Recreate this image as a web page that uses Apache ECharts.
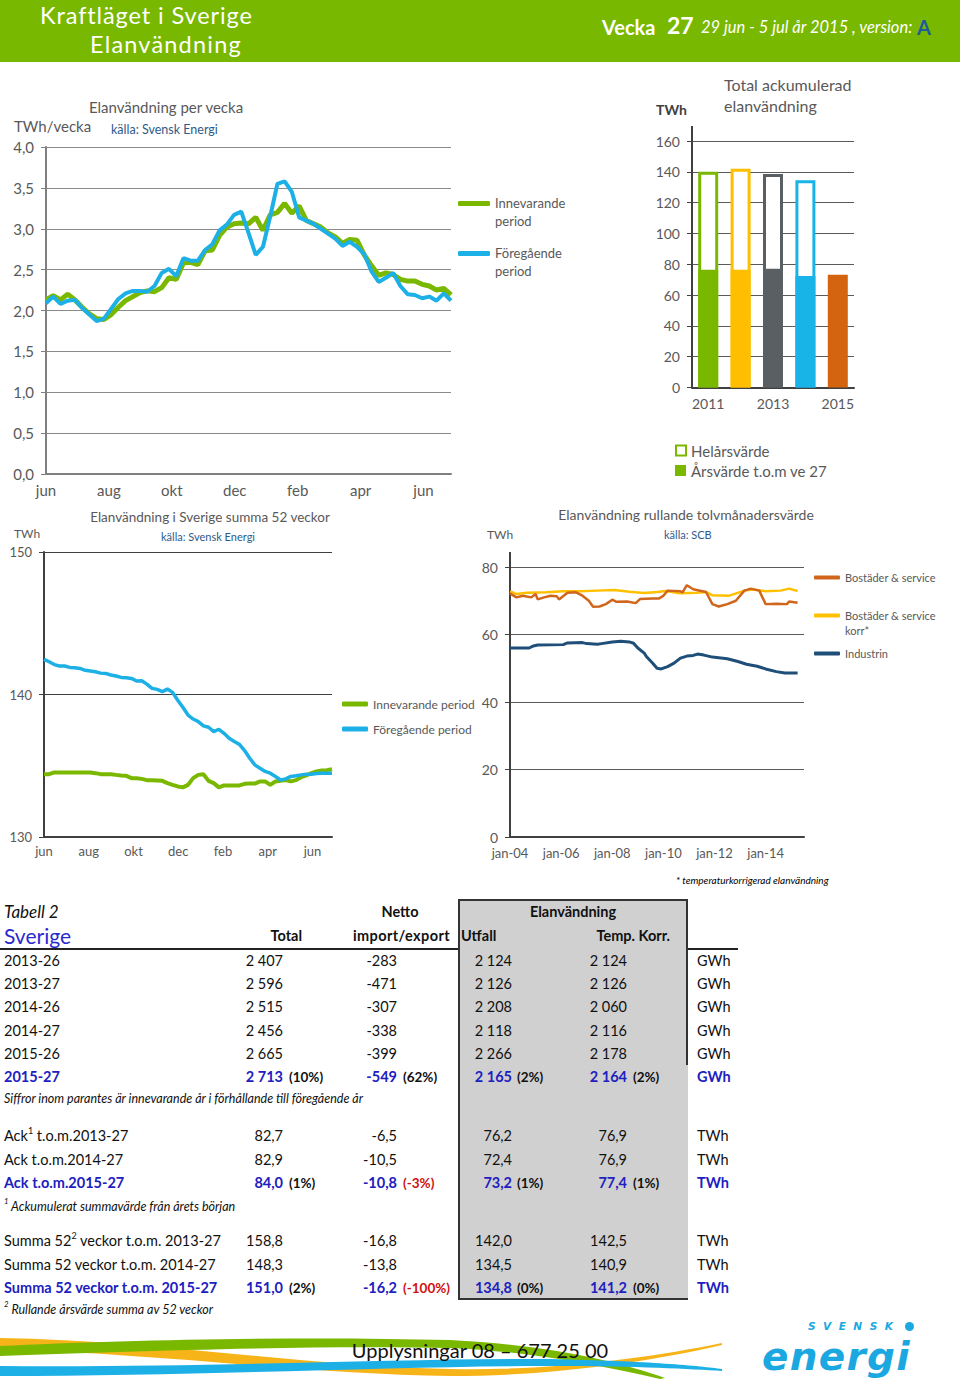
<!DOCTYPE html>
<html><head><meta charset="utf-8">
<script src="https://cdn.jsdelivr.net/npm/echarts@6/dist/echarts.min.js"></script>
<style>
html,body{margin:0;padding:0;background:#fff;}
#page{position:relative;width:960px;height:1380px;overflow:hidden;font-family:Lato,'Noto Sans',sans-serif;}
#header{position:absolute;left:0;top:0;width:960px;height:62px;background:#79b800;}
#chart{position:absolute;left:0;top:0;width:960px;height:1380px;z-index:1;}
.t{position:absolute;white-space:nowrap;z-index:3;}
.blk{position:absolute;z-index:0;}
sup{font-size:62%;position:relative;top:-0.15em;line-height:0;}
#swoosh{position:absolute;left:0;top:1320px;z-index:2;}
</style></head>
<body><div id="page">
<div id="header"></div>
<div class="blk" style="left:458px;top:899px;width:230px;height:401px;background:#d0d0d0;border-left:2px solid #333;border-top:2px solid #333;border-bottom:2px solid #333;box-sizing:border-box;"></div>
<div class="blk" style="left:686px;top:899px;width:2px;height:166px;background:#333;"></div>
<div class="blk" style="left:0;top:948px;width:458px;height:2px;background:#222;"></div>
<div class="blk" style="left:688px;top:948px;width:50px;height:2px;background:#222;"></div>
<svg id="swoosh" width="760" height="60" viewBox="0 0 760 60">
  <path d="M0,18 C150,20 300,46 450,49 C550,51 650,38 722,23 L722,25 C650,42 550,56 450,56 C300,54 150,32 0,30 Z" fill="#f6b418"/>
  <path d="M0,26 C120,20 300,16 450,20 C550,25 620,42 665,58 L660,59 C610,48 540,32 450,28 C300,25 120,32 0,36 Z" fill="#7ab800"/>
  <path d="M0,46 C200,48 400,38 550,39 C650,41 700,46 722,49 L722,51 C690,49 640,46 550,46 C400,46 200,56 0,56 Z" fill="#1cb0e6"/>
</svg>
<div id="chart"></div>
</div>
<script>
// ---------- data ----------
const monthTicks = ['jun','aug','okt','dec','feb','apr','jun'];
const weeklyCurrent = [2.13,2.18,2.13,2.20,2.13,2.04,1.96,1.90,1.89,1.95,
  2.04,2.12,2.17,2.22,2.24,2.23,2.28,2.40,2.38,2.58,
  2.59,2.56,2.73,2.74,2.92,3.02,3.06,3.07,3.06,3.14,
  2.98,3.17,3.20,3.31,3.19,3.28,3.10,3.06,3.02,2.95,
  2.90,2.82,2.87,2.86,2.68,2.55,2.43,2.46,2.44,2.38,
  2.36,2.36,2.32,2.30,2.25,2.27,2.19];
const weeklyPrevious = [2.09,2.17,2.08,2.12,2.13,2.03,1.95,1.87,1.90,2.02,
  2.14,2.21,2.24,2.24,2.23,2.30,2.46,2.51,2.42,2.64,
  2.61,2.61,2.74,2.81,2.98,3.05,3.17,3.21,2.95,2.68,
  2.78,3.15,3.55,3.58,3.45,3.14,3.10,3.06,3.00,2.94,
  2.88,2.79,2.84,2.78,2.69,2.48,2.35,2.40,2.46,2.30,
  2.20,2.19,2.15,2.17,2.12,2.21,2.12];
const yearCategories = ['2011','2012','2013','2014','2015'];
const fullYearValues = [140.0,142.0,138.5,134.5,null];
const ytdWeek27Values = [76.5,76.4,77.0,72.4,73.2];
const sum52Current = [134.41,134.41,134.53,134.53,134.53,134.53,134.53,134.53,134.53,134.53,
  134.48,134.41,134.41,134.41,134.36,134.32,134.29,134.13,134.13,134.08,
  133.99,133.99,133.97,133.94,133.78,133.66,133.55,133.48,133.66,134.13,
  134.36,134.41,133.94,133.78,133.48,133.62,133.62,133.62,133.62,133.73,
  133.75,133.75,133.90,133.90,133.66,133.90,133.94,133.99,133.90,133.99,
  134.20,134.32,134.48,134.60,134.67,134.69,134.76];
const sum52Previous = [142.46,142.30,142.10,142.00,142.00,141.90,141.88,141.83,141.70,141.65,
  141.60,141.50,141.48,141.37,141.30,141.20,141.18,141.13,140.95,140.97,
  140.73,140.43,140.36,140.20,140.38,140.15,139.60,139.10,138.56,138.28,
  138.10,137.80,137.70,137.40,137.56,137.28,136.93,136.70,136.50,136.07,
  135.53,135.06,134.83,134.60,134.48,134.25,134.00,134.08,134.25,134.30,
  134.36,134.40,134.40,134.46,134.48,134.48,134.48];
const rollingTicks = ['jan-04','jan-06','jan-08','jan-10','jan-12','jan-14'];
const bostaderMonths = [0,3,6,10,12,13,16,19,22,23,27,31,34,37,39,42,45,48,50,55,59,61,67,70,72,74,80,81,83,86,92,95,98,102,106,110,113,117,120,125,130,131,135];
const bostaderValues = [72.2,71.0,71.5,71.0,72.0,70.4,71.0,71.5,71.3,70.4,72.4,72.5,71.5,70.0,68.2,68.3,69.0,70.3,69.7,69.8,69.3,70.5,70.7,70.7,71.5,73.0,72.8,72.5,74.6,73.4,72.6,69.0,68.3,69.0,70.0,73.0,73.6,73.0,69.0,69.1,69.0,69.8,69.4];
const korrMonths = [0,3,8,17,25,33,41,49,56,63,69,73,80,88,92,95,103,110,114,120,127,131,135];
const korrValues = [72.8,72.0,72.4,72.5,72.8,72.8,73.0,73.2,72.7,72.3,72.6,72.9,72.2,72.4,72.6,71.6,71.5,73.0,73.3,72.8,73.0,73.6,72.9];
const industriMonths = [0,9,11,13,25,27,34,36,41,43,48,52,56,58,60,63,64,67,69,71,74,77,80,83,86,88,91,95,102,107,111,116,120,125,129,135];
const industriValues = [56.0,56.0,56.6,56.9,57.0,57.5,57.6,57.3,57.1,57.3,57.8,58.0,57.8,57.4,56.0,54.5,53.5,51.5,50.0,49.8,50.5,51.5,53.0,53.6,53.8,54.2,53.9,53.3,52.8,52.0,51.2,50.6,49.8,49.0,48.6,48.6];

// table
const weekLabels = ['2013-26','2013-27','2014-26','2014-27','2015-26','2015-27'];
const weekTotal = ['2 407','2 596','2 515','2 456','2 665','2 713'];
const weekNet = ['-283','-471','-307','-338','-399','-549'];
const weekUtfall = ['2 124','2 126','2 208','2 118','2 266','2 165'];
const weekTempKorr = ['2 124','2 126','2 060','2 116','2 178','2 164'];
const weekPct = ['(10%)','(62%)','(2%)','(2%)'];
const ackLabels = ['Ack<sup>1</sup> t.o.m.2013-27','Ack t.o.m.2014-27','Ack t.o.m.2015-27'];
const ackTotal = ['82,7','82,9','84,0'];
const ackNet = ['-6,5','-10,5','-10,8'];
const ackUtfall = ['76,2','72,4','73,2'];
const ackTempKorr = ['76,9','76,9','77,4'];
const ackPct = ['(1%)','(-3%)','(1%)','(1%)'];
const sumLabels = ['Summa 52<sup>2</sup> veckor t.o.m. 2013-27','Summa 52 veckor t.o.m. 2014-27','Summa 52 veckor t.o.m. 2015-27'];
const sumTotal = ['158,8','148,3','151,0'];
const sumNet = ['-16,8','-13,8','-16,2'];
const sumUtfall = ['142,0','134,5','134,8'];
const sumTempKorr = ['142,5','140,9','141,2'];
const sumPct = ['(2%)','(-100%)','(0%)','(0%)'];

// ---------- styles ----------
const GREEN='#7ab800', BLUE='#1cb0e6', GRAYTXT='#595959', FONT='Lato';
const barColors = ['#7ab800','#ffbf00','#5a5f63','#18b4e8','#d4640f'];
const WEEKS_2M = 8.7;

// ---------- text helper ----------
const page = document.getElementById('page');
function T(txt,x,y,o){o=o||{};const d=document.createElement('div');d.className='t';d.innerHTML=txt;
  const s=o.size||14, lh=o.lh||1.2;d.style.fontSize=s+'px';d.style.lineHeight=(s*lh)+'px';d.style.top=(y-s*(lh/2+0.057))+'px';
  d.style.color=o.color||GRAYTXT; if(o.bold)d.style.fontWeight=o.bold===true?'bold':o.bold; if(o.italic)d.style.fontStyle='italic';
  if(o.ls)d.style.letterSpacing=o.ls+'px'; if(o.font)d.style.fontFamily=o.font;
  if(o.align==='center'){d.style.left=x+'px';d.style.transform='translateX(-50%)';}
  else if(o.align==='right'){d.style.right=(960-x)+'px';} else d.style.left=x+'px';
  page.appendChild(d);return d;}

// header
T('Kraftläget i Sverige',40,16.5,{size:23.5,color:'#fff',ls:0.9});
T('Elanvändning',90,45,{size:23.5,color:'#fff',ls:1.2});
T('Vecka',602,28,{size:20,color:'#fff',bold:true});
T('27',667,27,{size:23,color:'#fff',bold:true});
T('29 jun - 5 jul år 2015 , version:',701,29,{size:16.5,color:'#fff',italic:true});
T('A',917,28,{size:20,color:'#1f5a9e',bold:true});

// chart titles
T('Elanvändning per vecka',166,108,{size:15,align:'center'});
T('TWh/vecka',14,127,{size:15});
T('källa: Svensk Energi',111,130,{size:12.5,color:'#2f5b8a'});
T('TWh',656,111,{size:14,bold:true,color:'#404040'});
T('Total ackumulerad',724,86,{size:16});
T('elanvändning',724,107,{size:16});
T('Elanvändning i Sverige summa 52 veckor',210,518,{size:13.5,align:'center'});
T('TWh',14,535,{size:12});
T('källa: Svensk Energi',161,537,{size:11,color:'#2f5b8a'});
T('Elanvändning rullande tolvmånadersvärde',686,516,{size:14,align:'center'});
T('TWh',487,536,{size:12});
T('källa: SCB',664,535,{size:11,color:'#2f5b8a'});
T('* temperaturkorrigerad elanvändning',676,881,{size:10,italic:true,color:'#000'});

// table
const BLK='#111', BL='#2020c0', RED='#d01010', TS=14.5;
T('Tabell 2',4,913,{size:17,italic:true,color:BLK});
T('Sverige',4,937,{size:21,color:'#2a2ad0'});
T('Netto',400,913,{size:TS,bold:true,color:BLK,align:'center'});
T('Elanvändning',573,913,{size:TS,bold:true,color:BLK,align:'center'});
T('Total',302,937,{size:TS,bold:true,color:BLK,align:'right'});
T('import/export',450,937,{size:TS,bold:true,color:BLK,align:'right',ls:0.4});
T('Utfall',461,937,{size:TS,bold:true,color:BLK});
T('Temp. Korr.',670,937,{size:TS,bold:true,color:BLK,align:'right'});
function row(y,label,tot,net,utf,tk,unit,hl,pct){
  const c=hl?BL:BLK, b=hl;
  T(label,4,y,{size:TS,color:c,bold:b});
  T(tot,283,y,{size:TS,color:c,bold:b,align:'right'});
  T(net,397,y,{size:TS,color:c,bold:b,align:'right'});
  T(utf,512,y,{size:TS,color:c,bold:b,align:'right'});
  T(tk,627,y,{size:TS,color:c,bold:b,align:'right'});
  T(unit,697,y,{size:TS,color:c,bold:b});
  if(pct){const xs=[289,403,517,633];pct.forEach((p,i)=>{T(p,xs[i],y,{size:13.5,bold:true,color:p.indexOf('-')>=0?RED:BLK});});}
}
const wy=[962,985,1008,1032,1055,1078];
weekLabels.forEach((l,i)=>row(wy[i],l,weekTotal[i],weekNet[i],weekUtfall[i],weekTempKorr[i],'GWh',i===5,i===5?weekPct:null));
T('Siffror inom parantes är innevarande år i förhållande till föregående år',4,1099,{size:12.5,italic:true,color:BLK});
const ay=[1137,1161,1184];
ackLabels.forEach((l,i)=>row(ay[i],l,ackTotal[i],ackNet[i],ackUtfall[i],ackTempKorr[i],'TWh',i===2,i===2?ackPct:null));
T('<sup>1</sup> Ackumulerat summavärde från årets början',4,1207,{size:12.5,italic:true,color:BLK});
const sy=[1242,1266,1289];
sumLabels.forEach((l,i)=>row(sy[i],l,sumTotal[i],sumNet[i],sumUtfall[i],sumTempKorr[i],'TWh',i===2,i===2?sumPct:null));
T('<sup>2</sup> Rullande årsvärde summa av 52 veckor',4,1310,{size:12.5,italic:true,color:BLK});

// footer
T('Upplysningar 08 &ndash; 677 25 00',480,1351,{size:20,color:'#111',align:'center'});
T('SVENSK',808,1327,{size:10.5,color:'#1ba8e0',bold:true,italic:true,ls:7.5,font:'DejaVu Sans',lh:1});
T('<span style="display:inline-block;width:9px;height:9px;border-radius:50%;background:#1ba8e0;"></span>',905,1327,{size:9,lh:1});
T('energi',762,1358.5,{size:39,color:'#1ba8e0',bold:true,italic:true,font:'DejaVu Sans',lh:0.9,ls:1.3});

// ---------- chart ----------
const chart = echarts.init(document.getElementById('chart'), null, {renderer:'svg'});
const txt = (s,c)=>({fontFamily:FONT,fontSize:s,color:c||GRAYTXT});
const weekFmt = v=>{const k=v/WEEKS_2M,r=Math.round(k);return Math.abs(k-r)<1e-6?monthTicks[r]:'';};
const pairs = arr=>arr.map((v,i)=>[i,v]);
const zip = (xs,ys)=>xs.map((x,i)=>[x,ys[i]]);
const twoLine = (first,lh1)=>({...txt(first.size),rich:{a:{...txt(first.size),lineHeight:lh1},b:{...txt(first.size),lineHeight:1}}});
const splitFmt = n=>{const p=n.split(' ');return '{a|'+p[0]+'}\n{b|'+p.slice(1).join(' ')+'}';};

const option = {
  animation:false,
  textStyle:{fontFamily:FONT},
  grid:[
    {left:46,top:147,width:405,height:327},
    {left:692,top:141,width:162,height:246.5},
    {left:44,top:552,width:288,height:285},
    {left:510,top:567,width:294,height:270}
  ],
  xAxis:[
    {gridIndex:0,type:'value',min:0,max:56,interval:WEEKS_2M,
     axisLine:{lineStyle:{color:'#7f7f7f',width:2}},axisTick:{show:false},splitLine:{show:false},
     axisLabel:{...txt(15),margin:8,formatter:weekFmt}},
    {gridIndex:1,type:'category',data:yearCategories,
     axisLine:{lineStyle:{color:'#404040',width:2}},axisTick:{show:false},
     axisLabel:{...txt(14),interval:1,margin:9}},
    {gridIndex:2,type:'value',min:0,max:56,interval:WEEKS_2M,
     axisLine:{lineStyle:{color:'#404040',width:2}},axisTick:{show:false},splitLine:{show:false},
     axisLabel:{...txt(13),margin:7,formatter:weekFmt}},
    {gridIndex:3,type:'value',min:0,max:138,interval:24,
     axisLine:{lineStyle:{color:'#404040',width:2}},axisTick:{show:false},splitLine:{show:false},
     axisLabel:{...txt(13),margin:9,formatter:v=>v%24===0?rollingTicks[v/24]:''}}
  ],
  yAxis:[
    {gridIndex:0,type:'value',min:0,max:4,interval:0.5,
     axisLine:{show:true,lineStyle:{color:'#7f7f7f',width:2}},axisTick:{show:true,length:5,lineStyle:{color:'#7f7f7f'}},
     splitLine:{lineStyle:{color:'#8a8a8a',width:1}},
     axisLabel:{...txt(15),margin:12,formatter:v=>v.toFixed(1).replace('.',',')}},
    {gridIndex:1,type:'value',min:0,max:160,interval:20,
     axisLine:{show:true,lineStyle:{color:'#404040',width:2}},axisTick:{show:true,length:5,lineStyle:{color:'#404040'}},
     splitLine:{lineStyle:{color:'#5a5a5a',width:1}},
     axisLabel:{...txt(14),margin:12}},
    {gridIndex:2,type:'value',min:130,max:150,interval:10,
     axisLine:{show:true,lineStyle:{color:'#404040',width:2}},axisTick:{show:true,length:5,lineStyle:{color:'#404040'}},
     splitLine:{lineStyle:{color:'#404040',width:1}},
     axisLabel:{...txt(13),margin:12}},
    {gridIndex:3,type:'value',min:0,max:80,interval:20,
     axisLine:{show:true,lineStyle:{color:'#404040',width:2}},axisTick:{show:true,length:5,lineStyle:{color:'#404040'}},
     splitLine:{lineStyle:{color:'#5a5a5a',width:1}},
     axisLabel:{...txt(14),margin:12}}
  ],
  legend:[
    {data:['Innevarande period'],left:458,top:196.5,padding:0,icon:'roundRect',itemWidth:32,itemHeight:5,
     formatter:splitFmt,textStyle:twoLine({size:13},34)},
    {data:['Föregående period'],left:458,top:246.5,padding:0,icon:'roundRect',itemWidth:32,itemHeight:5,
     formatter:splitFmt,textStyle:twoLine({size:13},34)},
    {data:['Helårsvärde'],left:675,top:443,padding:0,icon:'rect',itemWidth:10,itemHeight:10,
     itemStyle:{color:'#fff',borderColor:GREEN,borderWidth:2},textStyle:txt(15)},
    {data:['Årsvärde t.o.m ve 27'],left:675,top:463,padding:0,icon:'rect',itemWidth:11,itemHeight:11,
     itemStyle:{color:GREEN,borderWidth:0},textStyle:txt(15)},
    {data:['Innevarande period'],left:342,top:698,padding:0,icon:'roundRect',itemWidth:26,itemHeight:5,textStyle:txt(12)},
    {data:['Föregående period'],left:342,top:723,padding:0,icon:'roundRect',itemWidth:26,itemHeight:5,textStyle:txt(12)},
    {data:['Bostäder & service'],left:814,top:572,padding:0,icon:'roundRect',itemWidth:26,itemHeight:4,textStyle:txt(11)},
    {data:['Bostäder & service korr*'],left:814,top:609.5,padding:0,icon:'roundRect',itemWidth:26,itemHeight:4,
     formatter:()=>'{a|Bostäder & service}\n{b|korr*}',textStyle:twoLine({size:11},30)},
    {data:['Industrin'],left:814,top:648,padding:0,icon:'roundRect',itemWidth:26,itemHeight:4,textStyle:txt(11)}
  ],
  graphic:[
    {type:'line',shape:{x1:692,y1:126,x2:692,y2:141},style:{stroke:'#404040',lineWidth:2},z:10},
    {type:'line',shape:{x1:510,y1:552,x2:510,y2:567},style:{stroke:'#404040',lineWidth:2},z:10}
  ],
  series:[
    {name:'Innevarande period',type:'line',xAxisIndex:0,yAxisIndex:0,data:pairs(weeklyCurrent),showSymbol:false,
     lineStyle:{color:GREEN,width:5},itemStyle:{color:GREEN},z:2},
    {name:'Föregående period',type:'line',xAxisIndex:0,yAxisIndex:0,data:pairs(weeklyPrevious),showSymbol:false,
     lineStyle:{color:BLUE,width:4},itemStyle:{color:BLUE},z:3},
    {name:'Helårsvärde',type:'bar',xAxisIndex:1,yAxisIndex:1,barWidth:20,barGap:'-100%',
     itemStyle:{color:'#fff',borderColor:GREEN,borderWidth:3},
     data:fullYearValues.map((v,i)=>({value:v,itemStyle:{color:'#fff',borderColor:barColors[i],borderWidth:3}}))},
    {name:'Årsvärde t.o.m ve 27',type:'bar',xAxisIndex:1,yAxisIndex:1,barWidth:20,barGap:'-100%',
     itemStyle:{color:GREEN},
     data:ytdWeek27Values.map((v,i)=>({value:v,itemStyle:{color:barColors[i]}}))},
    {name:'Innevarande period',type:'line',xAxisIndex:2,yAxisIndex:2,data:pairs(sum52Current),showSymbol:false,
     lineStyle:{color:GREEN,width:4},itemStyle:{color:GREEN},z:2},
    {name:'Föregående period',type:'line',xAxisIndex:2,yAxisIndex:2,data:pairs(sum52Previous),showSymbol:false,
     lineStyle:{color:BLUE,width:3.5},itemStyle:{color:BLUE},z:3},
    {name:'Bostäder & service',type:'line',xAxisIndex:3,yAxisIndex:3,data:zip(bostaderMonths,bostaderValues),showSymbol:false,
     lineStyle:{color:'#d0661c',width:2.5},itemStyle:{color:'#d0661c'},z:3},
    {name:'Bostäder & service korr*',type:'line',xAxisIndex:3,yAxisIndex:3,data:zip(korrMonths,korrValues),showSymbol:false,
     lineStyle:{color:'#ffc000',width:2.5},itemStyle:{color:'#ffc000'},z:2},
    {name:'Industrin',type:'line',xAxisIndex:3,yAxisIndex:3,data:zip(industriMonths,industriValues),showSymbol:false,
     lineStyle:{color:'#1f4e79',width:3},itemStyle:{color:'#1f4e79'},z:2}
  ]
};
chart.setOption(option);
</script>
</body></html>
